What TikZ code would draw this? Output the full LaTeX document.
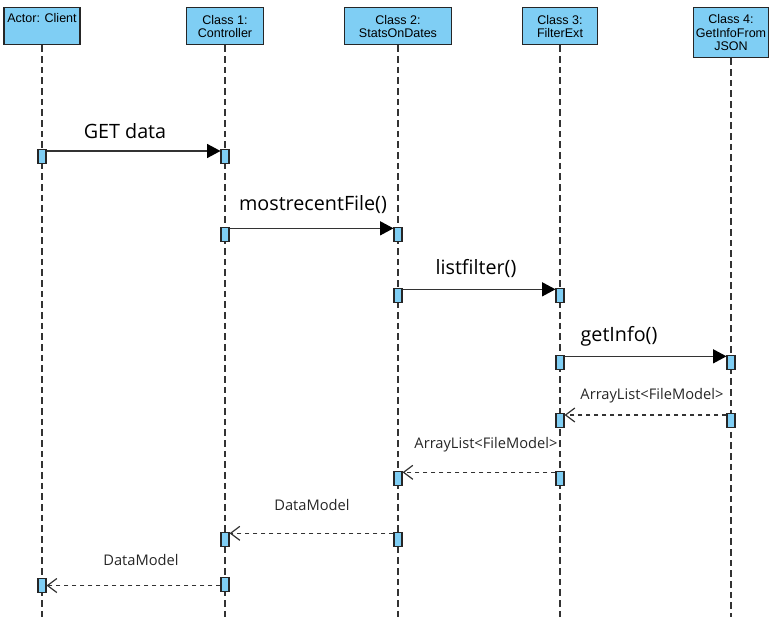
\documentclass[tikz,border=0pt]{standalone}
\usepackage{fontspec}
\setmainfont{Open Sans}
\newfontfamily\hdrfont{Liberation Sans}
\usepackage{xcolor}
\usetikzlibrary{arrows.meta, positioning, calc}
\definecolor{BoxBlue}{RGB}{127, 206, 244}
\definecolor{LineGray}{RGB}{51, 51, 51}

\begin{document}
\begin{tikzpicture}[x=0.75pt, y=-0.75pt,
  hdr/.style={draw=black!85, fill=BoxBlue, line width=1.1pt, inner sep=0pt,
              align=center, anchor=north, font=\hdrfont\fontsize{9.4}{10}\selectfont},
  act/.style={draw=black!85, fill=BoxBlue, line width=0.8pt, inner sep=0pt,
              minimum width=6pt, minimum height=10.5pt, anchor=north},
  life/.style={LineGray, line width=1.1pt, dash pattern=on 5pt off 3pt},
  call/.style={LineGray, line width=0.9pt,
               -{Triangle[length=10pt, width=10.5pt, color=black]}},
  ret/.style={LineGray, line width=0.9pt, dash pattern=on 3.5pt off 2.5pt,
              -{Straight Barb[length=7pt, width=10.5pt]}},
  msg/.style={font=\fontsize{14.8}{17}\selectfont},
  rmsg/.style={font=\fontsize{11}{13}\selectfont, text=black!85}
]
  \useasboundingbox (0,0) rectangle (772,617);

  % heads
  \node[hdr, minimum width=57pt, minimum height=27.75pt] (client) at (42,7)
    {Actor: Client\\ \strut};
  \node[hdr, minimum width=57.75pt, minimum height=27.75pt] (ctrl) at (225,7)
    {Class 1:\\Controller};
  \node[hdr, minimum width=80.25pt, minimum height=27.75pt] (stats) at (398,7)
    {Class 2:\\StatsOnDates};
  \node[hdr, minimum width=56.25pt, minimum height=27.75pt] (filt) at (560,7)
    {Class 3:\\FilterExt};
  \node[hdr, minimum width=56.25pt, minimum height=37.5pt] (info) at (731,7)
    {Class 4:\\GetInfoFrom\\JSON};

  % lifelines
  \coordinate (clientEnd) at (42,617);
  \coordinate (ctrlEnd) at (225,617);
  \coordinate (statsEnd) at (398,617);
  \coordinate (filtEnd) at (560,617);
  \coordinate (infoEnd) at (731,617);
  \draw[life] (client) -- (clientEnd);
  \draw[life] (ctrl) -- (ctrlEnd);
  \draw[life] (stats) -- (statsEnd);
  \draw[life] (filt) -- (filtEnd);
  \draw[life] (info) -- (infoEnd);

  % activations
  \node[act] (a1) at (42,149) {};
  \node[act] (b1) at (225,149) {};
  \node[act] (b2) at (225,227) {};
  \node[act] (c2) at (398,227) {};
  \node[act] (c3) at (398,288) {};
  \node[act] (d3) at (560,288) {};
  \node[act] (d4) at (560,355) {};
  \node[act] (e4) at (731,355) {};
  \node[act] (e5) at (731,413) {};
  \node[act] (d5) at (560,413) {};
  \node[act] (d6) at (560,471) {};
  \node[act] (c6) at (398,471) {};
  \node[act] (c7) at (398,532) {};
  \node[act] (b7) at (225,532) {};
  \node[act] (b8) at (225,577) {};
  \node[act] (a8) at (42,578) {};

  % calls
  \draw[call] ([yshift=-1.5pt]a1.north east) -- ([yshift=-1.5pt]b1.north west);
  \draw[call] ([yshift=-1pt]b2.north east) -- ([yshift=-1pt]c2.north west);
  \draw[call] ([yshift=-1pt]c3.north east) -- ([yshift=-1pt]d3.north west);
  \draw[call] ([yshift=-1pt]d4.north east) -- ([yshift=-1pt]e4.north west);

  % returns
  \draw[ret] ([yshift=-1.5pt]e5.north west) -- ([yshift=-1.5pt]d5.north east);
  \draw[ret] ([yshift=-1pt]d6.north west) -- ([yshift=-1pt]c6.north east);
  \draw[ret] ([yshift=-1pt]c7.north west) -- ([yshift=-1pt]b7.north east);
  \draw[ret] (b8.west |- a8.east) -- (a8.east);

  % labels
  \node[msg] (lGet) at (125,131) {GET data};
  \node[msg] (lRecent) at (313,205) {mostrecentFile()};
  \node[msg] (lFilter) at (476,269) {listfilter()};
  \node[msg] (lInfo) at (619,336) {getInfo()};
  \node[rmsg] (lList1) at (652,396) {ArrayList<FileModel>};
  \node[rmsg] (lList2) at (486,445) {ArrayList<FileModel>};
  \node[rmsg] (lData1) at (312,505) {DataModel};
  \node[rmsg] (lData2) at (141,560) {DataModel};
\end{tikzpicture}
\end{document}
